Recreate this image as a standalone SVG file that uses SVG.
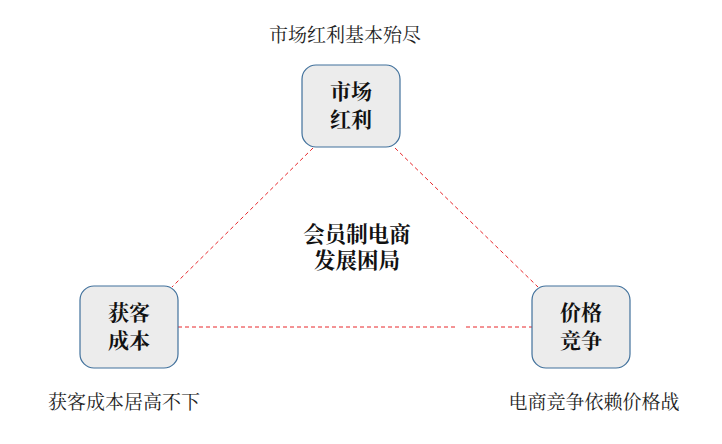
<svg xmlns="http://www.w3.org/2000/svg" width="722" height="444" viewBox="0 0 722 444">
<style>
.box{fill:#ececec;stroke:#41719c;stroke-width:1.2}
.lbl{font-family:"Noto Serif CJK SC","Noto Sans CJK SC",serif;font-size:21px;font-weight:bold;fill:#111;text-anchor:middle}
.cap{font-family:"Noto Serif CJK SC","Noto Sans CJK SC",serif;font-size:19px;fill:#222;text-anchor:middle}
.ctr{font-family:"Noto Serif CJK SC","Noto Sans CJK SC",serif;font-size:21.5px;font-weight:bold;fill:#111;text-anchor:middle}
.dash{stroke:#e8262a;stroke-width:1;stroke-dasharray:4,3;fill:none}
</style>
<rect width="722" height="444" fill="#fff"/>
<g id="connectors">
<line class="dash" x1="313" y1="148" x2="172" y2="287"/>
<line class="dash" x1="395" y1="148" x2="538" y2="287"/>
<line class="dash" x1="178" y1="327" x2="457" y2="327"/>
<line class="dash" x1="466" y1="327" x2="532" y2="327"/>
</g>
<g id="node-top">
<rect class="box" x="302" y="65" width="98" height="82" rx="14"/>
<text class="lbl" x="351" y="99"><tspan x="351" y="99">市场</tspan><tspan x="351" y="127">红利</tspan></text>
</g>
<g id="node-left">
<rect class="box" x="80" y="286" width="98" height="82" rx="14"/>
<text class="lbl"><tspan x="129" y="320">获客</tspan><tspan x="129" y="348">成本</tspan></text>
</g>
<g id="node-right">
<rect class="box" x="532" y="286" width="98" height="82" rx="14"/>
<text class="lbl"><tspan x="581" y="320">价格</tspan><tspan x="581" y="348">竞争</tspan></text>
</g>
<g id="center">
<text class="ctr"><tspan x="357" y="242">会员制电商</tspan><tspan x="357" y="268">发展困局</tspan></text>
</g>
<g id="captions">
<text class="cap" x="345" y="42">市场红利基本殆尽</text>
<text class="cap" x="124" y="409">获客成本居高不下</text>
<text class="cap" x="594" y="409">电商竞争依赖价格战</text>
</g>
</svg>
